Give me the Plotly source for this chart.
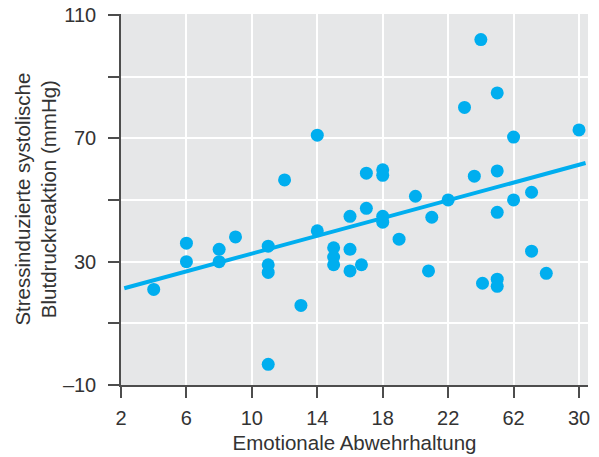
import numpy as np
import plotly.graph_objects as go

abwehr = [4, 6, 6, 8, 8, 9, 11, 11, 11, 11, 12, 13, 14, 14, 15, 15, 15, 16, 16, 16,
          17, 17, 16.7, 18, 18, 18, 18, 19, 20, 21, 20.8, 22, 23, 23.6, 24, 24.1,
          25, 25, 25, 25, 25, 26, 26, 27.1, 27.1, 28, 30]
blutdruck = [21, 36, 30, 34, 30, 38, 35, 29, 26.5, -3.3, 56.5, 15.8, 71, 40, 34.5, 31.5, 29, 44.7, 34, 27,
             58.7, 47.3, 29, 59.8, 58, 44.7, 42.8, 37.3, 51.2, 44.4, 27, 50, 80, 57.7, 102, 23,
             84.7, 59.4, 46, 24.3, 22, 70.4, 50, 52.5, 33.4, 26.2, 72.7]

# regression line as drawn in the reference
trend_intercept = 18.2
trend_slope = 1.44
trend_x = [2.2, 30.4]

x_ticks = [2, 6, 10, 14, 18, 22, 26, 30]
x_ticktext = ["2", "6", "10", "14", "18", "22", "62", "30"]
y_ticks = [-10, 10, 30, 50, 70, 90, 110]
y_ticktext = ["\u201310", "", "30", "", "70", "", "110"]

line_x = np.array(trend_x)
line_y = trend_intercept + trend_slope * line_x

blue = "#00AEEF"
fig = go.Figure()
fig.add_trace(go.Scatter(x=line_x, y=line_y, mode="lines",
                         line=dict(color=blue, width=4), hoverinfo="skip"))
fig.add_trace(go.Scatter(x=abwehr, y=blutdruck, mode="markers",
                         marker=dict(color=blue, size=13, line=dict(width=0))))

fam = "Liberation Sans, Arial, sans-serif"
tick_font = dict(family=fam, size=20, color="#333333")
fig.update_layout(
    width=599, height=457,
    margin=dict(l=121, r=11, t=14, b=72, autoexpand=False),
    paper_bgcolor="white", plot_bgcolor="#E6E7E8",
    showlegend=False,
    font=dict(family=fam, color="#333333"),
    xaxis=dict(range=[2, 30.55], tickvals=x_ticks, ticktext=x_ticktext,
               showgrid=True, gridcolor="white", gridwidth=2,
               showline=True, linecolor="#4d4d4d", linewidth=1.5,
               ticks="outside", ticklen=11, tickcolor="#4d4d4d", tickwidth=1.5,
               zeroline=False, tickfont=tick_font, ticklabelstandoff=3, automargin=False,
               title=dict(text="Emotionale Abwehrhaltung", font=dict(family=fam, size=20.5, color="#333333"), standoff=8)),
    yaxis=dict(range=[-10, 110.3], tickvals=y_ticks, ticktext=y_ticktext,
               showgrid=True, gridcolor="white", gridwidth=2,
               showline=True, linecolor="#4d4d4d", linewidth=1.5,
               ticks="outside", ticklen=11, tickcolor="#4d4d4d", tickwidth=1.5,
               zeroline=False, tickfont=tick_font, ticklabelstandoff=8, automargin=False),
)
fig.add_annotation(text="Stressinduzierte systolische<br>Blutdruckreaktion (mmHg)",
                   xref="paper", yref="paper", x=-0.184, y=0.5, xanchor="center", yanchor="middle",
                   textangle=-90, showarrow=False, font=dict(family=fam, size=20.5, color="#333333"))
fig.write_html("out.html")
